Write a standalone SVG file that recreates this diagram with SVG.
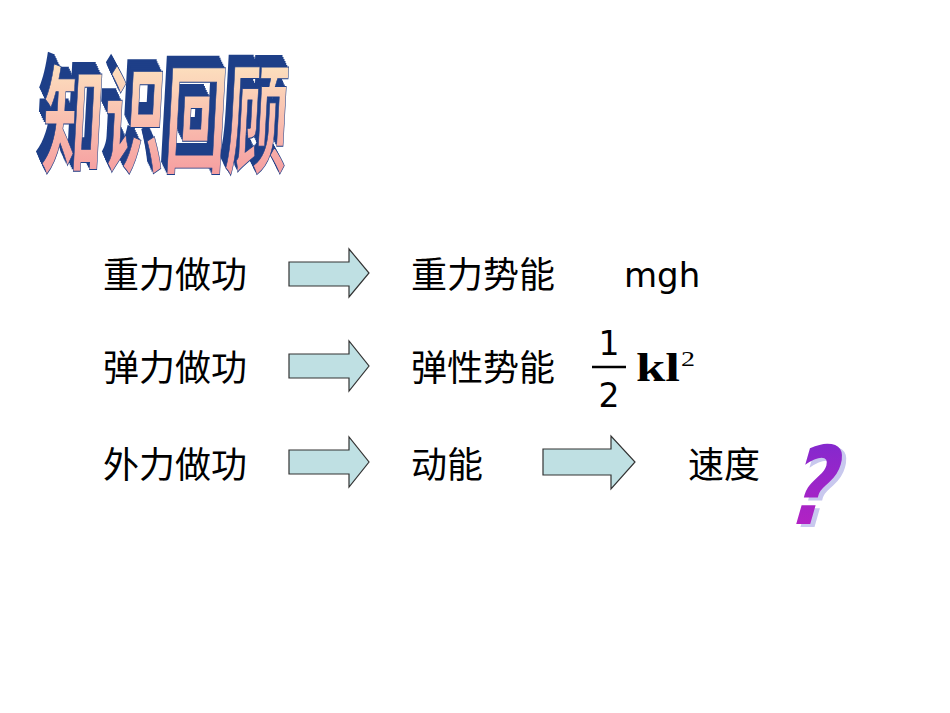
<svg xmlns="http://www.w3.org/2000/svg" width="950" height="713" viewBox="0 0 950 713">
<style>
.t{font-family:"Noto Sans CJK SC","Noto Sans",sans-serif;font-size:36px;fill:#000}
.arr{fill:#bfe0e3;stroke:#333;stroke-width:1.2}
.title{font-family:"Noto Sans CJK SC",sans-serif;font-weight:700;font-size:118px}
</style>
<defs>
<linearGradient id="g" x1="0" y1="0" x2="0" y2="1">
<stop offset="0" stop-color="#fff6c8"/>
<stop offset="1" stop-color="#f4909a"/>
</linearGradient>
<linearGradient id="q" x1="0" y1="0" x2="0" y2="1">
<stop offset="0" stop-color="#7a2ad0"/>
<stop offset="1" stop-color="#c020c0"/>
</linearGradient>
</defs>
<rect width="950" height="713" fill="#fff"/>
<g id="title" transform="translate(34,162) scale(0.52,1) skewX(-6)">
<g class="title" fill="#1e3f88">
<text x="0" y="-10">知识回顾</text>
<text x="2" y="-8">知识回顾</text>
<text x="4" y="-6">知识回顾</text>
<text x="6" y="-4">知识回顾</text>
<text x="8" y="-2">知识回顾</text>
<text x="10" y="0">知识回顾</text>
</g>
<text class="title" x="13" y="2" fill="url(#g)" stroke="#1e3f88" stroke-width="1">知识回顾</text>
</g>
<g id="row1">
<text class="t" x="103" y="288">重力做功</text>
<text class="t" x="411" y="288">重力势能</text>
<text x="624" y="287" font-family="DejaVu Sans,sans-serif" font-size="34">mgh</text>
</g>
<g id="row2">
<text class="t" x="103" y="381">弹力做功</text>
<text class="t" x="411" y="381">弹性势能</text>
<g id="formula" font-family="Liberation Serif,serif">
<text x="609" y="355" font-size="33" text-anchor="middle" font-family="DejaVu Sans,sans-serif">1</text>
<line x1="592" y1="367" x2="626" y2="367" stroke="#000" stroke-width="2.5"/>
<text x="609" y="407" font-size="33" text-anchor="middle" font-family="DejaVu Sans,sans-serif">2</text>
<text x="636" y="381" font-size="40" font-weight="bold" textLength="44" lengthAdjust="spacingAndGlyphs">kl</text>
<text x="681" y="366" font-size="22" textLength="14" lengthAdjust="spacingAndGlyphs">2</text>
</g>
</g>
<g id="row3">
<text class="t" x="103" y="478">外力做功</text>
<text class="t" x="411" y="478">动能</text>
<text class="t" x="688" y="478">速度</text>
</g>
<g id="connectors">
<polygon class="arr" points="289,262 349,262 349,249 369,273 349,297 349,286 289,286"/>
<polygon class="arr" points="289,354 349,354 349,341 369,366 349,391 349,378 289,378"/>
<polygon class="arr" points="289,450 349,450 349,437 369,462 349,487 349,474 289,474"/>
<polygon class="arr" points="543,449 611,449 611,436 635,462 611,489 611,475 543,475"/>
</g>
<g id="question" transform="translate(778,527) skewX(-16)">
<text x="9" y="0" font-family="DejaVu Sans,sans-serif" font-weight="bold" font-size="108" fill="#c8c8ee" textLength="46" lengthAdjust="spacingAndGlyphs">?</text>
<text x="4" y="-3" font-family="DejaVu Sans,sans-serif" font-weight="bold" font-size="108" fill="url(#q)" textLength="46" lengthAdjust="spacingAndGlyphs">?</text>
</g>
</svg>
